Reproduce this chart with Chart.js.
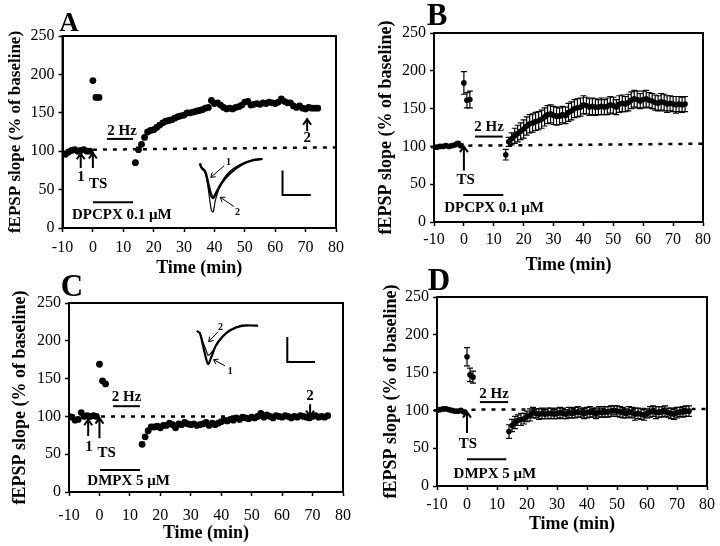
<!DOCTYPE html>
<html><head><meta charset="utf-8">
<script src="https://cdn.jsdelivr.net/npm/chart.js@4.4.1/dist/chart.umd.min.js"></script>
<style>
html,body{margin:0;padding:0;background:#fff;width:720px;height:546px;overflow:hidden}
canvas{position:absolute;left:0;top:0}
</style></head><body>
<canvas id="cA" width="720" height="546"></canvas>
<canvas id="cB" width="720" height="546"></canvas>
<canvas id="cC" width="720" height="546"></canvas>
<canvas id="cD" width="720" height="546"></canvas>
<script>
// ---------- DATA ----------
const xTicks = [-10, 0, 10, 20, 30, 40, 50, 60, 70, 80];
const yTicks = [0, 50, 100, 150, 200, 250];

// Panel A (single experiment, DPCPX 0.1 uM)
const timeA = [-10,-9,-8,-7,-6,-5,-4,-3,-2,-1, 0,1,2,
  14,15,16,17,18,19,20,21,22,23,24,25,26,27,28,29,30,31,32,33,34,35,36,37,
  38,39,40,41,42,43,44,45,46,47,48,49,50,51,52,53,54,55,56,57,58,59,60,61,62,63,64,65,66,67,68,69,70,71,72,73,74];
const slopeA = [97,96,99,101,102,100,101,102,100,100, 192,170,170,
  85,102,109,118,125,127,128,131,134,137,139,140,141,143,145,146,147,150,150,151,152,153,154,156,
  157,166,162,163,160,157,155,156,155,157,158,160,164,165,160,161,162,161,163,162,164,163,162,164,168,165,163,163,159,157,159,156,155,157,156,156,156];

// Panel B (mean +/- SEM, DPCPX 0.1 uM)
const timeB = [-10,-9,-8,-7,-6,-5,-4,-3,-2,-1, 0,1,2,
  14,15,16,17,18,19,20,21,22,23,24,25,26,27,28,29,30,31,32,33,34,35,36,37,
  38,39,40,41,42,43,44,45,46,47,48,49,50,51,52,53,54,55,56,57,58,59,60,61,62,63,64,65,66,67,68,69,70,71,72,73,74];
const slopeB = [99,99,100,100,101,100,101,102,104,101, 184,161,162,
  89,106,110,114,117,120,123,127,130,131,133,134,136,139,142,143,141,140,140,142,141,145,147,150,
  151,152,155,154,152,153,152,152,153,152,153,155,154,152,156,157,156,158,161,163,162,160,162,163,161,160,158,157,159,158,156,157,156,155,156,155,156];
const semB = [1,1,1,1,1,1,1,1,2,2, 15,10,11,
  7,6,8,10,11,11,12,12,12,12,12,12,12,12,12,12,12,12,11,11,11,12,12,12,
  12,12,12,11,11,11,11,10,11,10,11,11,11,10,11,11,10,11,11,11,11,10,11,11,10,10,10,10,11,11,11,10,10,11,10,10,10];

// Panel C (single experiment, DMPX 5 uM)
const timeC = [-10,-9,-8,-7,-6,-5,-4,-3,-2,-1, 0,1,2,
  14,15,16,17,18,19,20,21,22,23,24,25,26,27,28,29,30,31,32,33,34,35,36,37,
  38,39,40,41,42,43,44,45,46,47,48,49,50,51,52,53,54,55,56,57,58,59,60,61,62,63,64,65,66,67,68,69,70,71,72,73,74,75];
const slopeC = [100,99,95,96,105,100,101,100,101,100, 169,147,143,
  63,73,81,86,86,87,85,88,88,91,89,85,90,89,92,90,89,90,88,89,90,92,88,91,
  89,91,93,95,94,96,95,98,96,99,98,97,99,98,100,104,99,102,100,98,101,100,99,101,100,98,100,99,101,100,99,98,100,101,99,100,99,101];

// Panel D (mean +/- SEM, DMPX 5 uM)
const timeD = [-10,-9,-8,-7,-6,-5,-4,-3,-2,-1, 0,1,2,
  14,15,16,17,18,19,20,21,22,23,24,25,26,27,28,29,30,31,32,33,34,35,36,37,
  38,39,40,41,42,43,44,45,46,47,48,49,50,51,52,53,54,55,56,57,58,59,60,61,62,63,64,65,66,67,68,69,70,71,72,73,74];
const slopeD = [100,101,102,102,101,100,99,99,100,98, 171,147,144,
  72,80,84,87,88,89,92,94,97,96,95,96,95,96,96,95,96,97,96,95,97,96,97,98,
  97,96,97,98,97,96,98,97,98,98,99,100,99,98,97,96,98,97,95,96,95,94,96,98,99,97,98,98,99,97,96,95,97,98,98,99,99];
const semD = [1,1,1,1,1,1,1,1,1,2, 12,9,8,
  9,8,8,7,8,7,7,8,7,6,7,7,6,7,7,6,7,7,7,6,7,6,7,7,
  6,7,7,7,6,7,7,6,7,7,7,6,7,7,7,6,7,7,8,7,7,7,6,7,7,8,7,7,7,6,7,7,7,6,7,7,7];

// Inset field-potential traces (drawn in the axes' units)
const insetA1 = [[35.2,84],[35.7,79],[37.0,73],[38.0,50],[39.0,23],[39.6,21],[40.3,36],[42.0,56],[44.6,72],[48.6,83],[52.5,88],[55.8,90]];
const insetA2 = [[35.2,84],[35.7,79],[37.0,73],[38.0,57],[39.0,42],[39.6,39],[40.6,46],[42.6,60],[45.3,72],[49.2,83],[52.5,88],[55.8,90]];
const scaleBarA = [[62.4,75],[62.4,43],[71.7,43]];
const insetC1 = [[32.0,213],[33.0,210],[34.0,194],[35.0,177],[35.7,169],[36.6,177],[38.3,194],[40.3,205],[42.9,214],[46.8,220],[52.1,220]];
const insetC2 = [[32.0,213],[33.0,210],[34.0,198],[35.0,188],[35.7,181],[36.9,185],[38.9,197],[41.2,208],[44.2,216],[48.1,220],[52.1,220]];
const scaleBarC = [[61.7,205],[61.7,172],[70.8,172]];

// ---------- DRAWING ----------
const F = '"Liberation Serif","Times New Roman",serif';
const pts = (xs, ys) => xs.map((x, i) => ({x: x, y: ys[i]}));
const pairs = arr => arr.map(p => ({x: p[0], y: p[1]}));

const errPlugin = {
  id: 'err',
  beforeDatasetsDraw(chart) {
    const ctx = chart.ctx, xs = chart.scales.x, ys = chart.scales.y;
    ctx.save(); ctx.strokeStyle = '#000'; ctx.lineWidth = 1.2;
    chart.data.datasets.forEach(ds => {
      if (!ds.sem) return;
      ds.data.forEach((p, i) => {
        const e = ds.sem[i], x = xs.getPixelForValue(p.x);
        const y1 = ys.getPixelForValue(p.y - e), y2 = ys.getPixelForValue(p.y + e);
        ctx.beginPath();
        ctx.moveTo(x, y1); ctx.lineTo(x, y2);
        ctx.moveTo(x - 3, y1); ctx.lineTo(x + 3, y1);
        ctx.moveTo(x - 3, y2); ctx.lineTo(x + 3, y2);
        ctx.stroke();
      });
    });
    ctx.restore();
  }
};

function annotPlugin(items) {
  return {
    id: 'annot',
    afterDraw(chart) {
      const ctx = chart.ctx, xs = chart.scales.x, ys = chart.scales.y;
      const X = v => xs.getPixelForValue(v), Y = v => ys.getPixelForValue(v);
      ctx.save();
      ctx.strokeStyle = '#000'; ctx.fillStyle = '#000';
      const a = chart.chartArea;
      ctx.lineWidth = 2;
      ctx.strokeRect(a.left, a.top, a.right - a.left, a.bottom - a.top);
      for (const it of items) {
        ctx.setLineDash(it.dash || []);
        ctx.lineWidth = it.w || 2;
        if (it.t === 'line') {
          ctx.beginPath(); ctx.moveTo(X(it.x1), Y(it.y1)); ctx.lineTo(X(it.x2), Y(it.y2)); ctx.stroke();
        } else if (it.t === 'arrow') {
          const x1 = X(it.x1), y1 = Y(it.y1), x2 = X(it.x2), y2 = Y(it.y2);
          const ang = Math.atan2(y2 - y1, x2 - x1), h = it.h || 7, sp = 0.6;
          ctx.beginPath(); ctx.moveTo(x1, y1); ctx.lineTo(x2, y2);
          ctx.moveTo(x2 - h * Math.cos(ang - sp), y2 - h * Math.sin(ang - sp)); ctx.lineTo(x2, y2);
          ctx.lineTo(x2 - h * Math.cos(ang + sp), y2 - h * Math.sin(ang + sp));
          ctx.stroke();
        } else if (it.t === 'text' || it.t === 'ptext') {
          ctx.font = 'bold ' + (it.size || 15) + 'px ' + F;
          ctx.textAlign = it.align || 'center';
          ctx.textBaseline = it.t === 'ptext' ? 'alphabetic' : 'middle';
          const px = it.t === 'ptext' ? it.x : X(it.x), py = it.t === 'ptext' ? it.y : Y(it.y);
          ctx.fillText(it.s, px, py);
        }
      }
      ctx.restore();
    }
  };
}

function makeChart(id, P, datasets, items) {
  const yLH = P.ySize * 1.2, xLH = P.xSize * 1.2;
  const L0 = P.yTitleX - yLH / 2;
  const B0 = P.xTitleY + xLH / 2;
  const tickFont = {family: F, size: P.tickSize || 16};
  return new Chart(document.getElementById(id), {
    type: 'scatter',
    data: {datasets: datasets},
    options: {
      responsive: false, animation: false, devicePixelRatio: 1,
      layout: {padding: {left: L0, top: P.T, right: 720 - P.R, bottom: 546 - B0}},
      plugins: {legend: {display: false}, tooltip: {enabled: false}},
      scales: {
        x: {
          type: 'linear', min: -10, max: 80,
          afterFit(s) { s.height = B0 - P.B; },
          afterBuildTicks(s) { s.ticks = xTicks.map(v => ({value: v})); },
          ticks: {color: '#000', font: tickFont, padding: P.xTickPad, maxRotation: 0, autoSkip: false},
          grid: {drawOnChartArea: false, drawTicks: true, tickLength: 4, tickColor: '#000', tickWidth: 1.5},
          border: {display: true, color: '#000', width: 2},
          title: {display: true, text: 'Time (min)', color: '#000', font: {family: F, size: P.xSize, weight: 'bold'}, padding: {top: 0, bottom: 0}}
        },
        y: {
          type: 'linear', min: 0, max: 250,
          afterFit(s) { s.width = P.L - L0; },
          afterBuildTicks(s) { s.ticks = yTicks.map(v => ({value: v})); },
          ticks: {color: '#000', font: tickFont, padding: 4},
          grid: {drawOnChartArea: false, drawTicks: true, tickLength: 4, tickColor: '#000', tickWidth: 1.5},
          border: {display: true, color: '#000', width: 2},
          title: {display: true, text: 'fEPSP slope (% of baseline)', color: '#000', font: {family: F, size: P.ySize, weight: 'bold'}, padding: {top: 0, bottom: 0}}
        }
      }
    },
    plugins: [errPlugin, annotPlugin(items)]
  });
}

const dotDS = (data, r) => ({data: data, backgroundColor: '#000', borderColor: '#000', pointRadius: r, pointBorderWidth: 0, showLine: false});
const traceDS = (data, w) => ({data: data, borderColor: '#000', borderWidth: w, pointRadius: 0, showLine: true, tension: 0.3, fill: false});
const barDS = (data) => ({data: data, borderColor: '#000', borderWidth: 2, pointRadius: 0, showLine: true, tension: 0, fill: false});

// Panel A
makeChart('cA', {L: 62.5, T: 36, R: 336, B: 228, yTitleX: 16, xTitleY: 268, xTickPad: 6, ySize: 17, xSize: 18},
  [dotDS(pts(timeA, slopeA), 3.4), traceDS(pairs(insetA1), 1.2), traceDS(pairs(insetA2), 2.5), barDS(pairs(scaleBarA))],
  [
    {t: 'line', x1: 0, y1: 102, x2: 80, y2: 105, w: 2.5, dash: [4, 6]},
    {t: 'text', s: '2 Hz', x: 9.6, y: 126},
    {t: 'line', x1: 4.6, y1: 116, x2: 13.2, y2: 116},
    {t: 'line', x1: 0, y1: 33.5, x2: 13.2, y2: 33.5},
    {t: 'text', s: 'DPCPX 0.1 \u03bcM', x: 9.5, y: 17},
    {t: 'arrow', x1: -4, y1: 78, x2: -4, y2: 97},
    {t: 'text', s: '1', x: -3.9, y: 66},
    {t: 'arrow', x1: 0, y1: 78, x2: 0, y2: 98},
    {t: 'text', s: 'TS', x: 1.7, y: 57},
    {t: 'arrow', x1: 70.5, y1: 126, x2: 70.5, y2: 142},
    {t: 'text', s: '2', x: 70.5, y: 117},
    {t: 'arrow', x1: 43.2, y1: 81, x2: 38.8, y2: 66, w: 1, h: 5},
    {t: 'text', s: '1', x: 44.6, y: 86, size: 10},
    {t: 'arrow', x1: 46.4, y1: 28, x2: 41.9, y2: 40, w: 1, h: 5},
    {t: 'text', s: '2', x: 47.6, y: 20, size: 10},
    {t: 'ptext', s: 'A', x: 69, y: 31, size: 27}
  ]);

// Panel B
makeChart('cB', {L: 434, T: 33, R: 703, B: 222, yTitleX: 386.7, xTitleY: 265, xTickPad: 4, ySize: 18, xSize: 18},
  [Object.assign(dotDS(pts(timeB, slopeB), 2.8), {sem: semB})],
  [
    {t: 'line', x1: 1.5, y1: 101, x2: 80, y2: 103.5, w: 2.5, dash: [4, 6]},
    {t: 'text', s: '2 Hz', x: 8.4, y: 125},
    {t: 'line', x1: 3.7, y1: 113, x2: 13, y2: 113},
    {t: 'line', x1: -0.2, y1: 35.7, x2: 13.2, y2: 35.7},
    {t: 'text', s: 'DPCPX 0.1 \u03bcM', x: 10.1, y: 18},
    {t: 'arrow', x1: 0, y1: 68, x2: 0, y2: 100},
    {t: 'text', s: 'TS', x: 0.6, y: 55},
    {t: 'ptext', s: 'B', x: 437, y: 25, size: 31}
  ]);

// Panel C
makeChart('cC', {L: 69, T: 303, R: 343, B: 492, yTitleX: 20, xTitleY: 533, xTickPad: 10.5, ySize: 18, xSize: 18},
  [dotDS(pts(timeC, slopeC), 3.4), traceDS(pairs(insetC1), 2.2), traceDS(pairs(insetC2), 1.2), barDS(pairs(scaleBarC))],
  [
    {t: 'line', x1: 0.5, y1: 100, x2: 76, y2: 100, w: 2.5, dash: [4, 6]},
    {t: 'text', s: '2 Hz', x: 8.9, y: 125},
    {t: 'line', x1: 4.5, y1: 113.5, x2: 13.3, y2: 113.5},
    {t: 'line', x1: 0.2, y1: 29, x2: 13.3, y2: 29},
    {t: 'text', s: 'DMPX 5 \u03bcM', x: 9.6, y: 14},
    {t: 'arrow', x1: -3.7, y1: 74, x2: -3.7, y2: 96},
    {t: 'text', s: '1', x: -3.4, y: 60},
    {t: 'arrow', x1: 0, y1: 71, x2: 0, y2: 98},
    {t: 'text', s: 'TS', x: 2.4, y: 52},
    {t: 'arrow', x1: 69.2, y1: 116, x2: 69.2, y2: 100},
    {t: 'text', s: '2', x: 69.2, y: 127},
    {t: 'arrow', x1: 39.0, y1: 212, x2: 35.9, y2: 199, w: 1, h: 5},
    {t: 'text', s: '2', x: 39.8, y: 218, size: 10},
    {t: 'arrow', x1: 41.2, y1: 167, x2: 37.5, y2: 175, w: 1, h: 5},
    {t: 'text', s: '1', x: 43.0, y: 160, size: 10},
    {t: 'ptext', s: 'C', x: 72, y: 296, size: 31}
  ]);

// Panel D
makeChart('cD', {L: 437, T: 297, R: 708, B: 486, yTitleX: 391.7, xTitleY: 524, xTickPad: 5, ySize: 18, xSize: 18},
  [Object.assign(dotDS(pts(timeD, slopeD), 2.8), {sem: semD})],
  [
    {t: 'line', x1: 1.5, y1: 101, x2: 80, y2: 102, w: 2.5, dash: [4, 6]},
    {t: 'text', s: '2 Hz', x: 9.0, y: 122},
    {t: 'line', x1: 4.3, y1: 111, x2: 13.7, y2: 111},
    {t: 'line', x1: 0, y1: 35.3, x2: 13.1, y2: 35.3},
    {t: 'text', s: 'DMPX 5 \u03bcM', x: 9.3, y: 15.5},
    {t: 'arrow', x1: 0, y1: 70, x2: 0, y2: 98},
    {t: 'text', s: 'TS', x: 0.3, y: 56},
    {t: 'ptext', s: 'D', x: 439, y: 290, size: 31}
  ]);
</script>
</body></html>
